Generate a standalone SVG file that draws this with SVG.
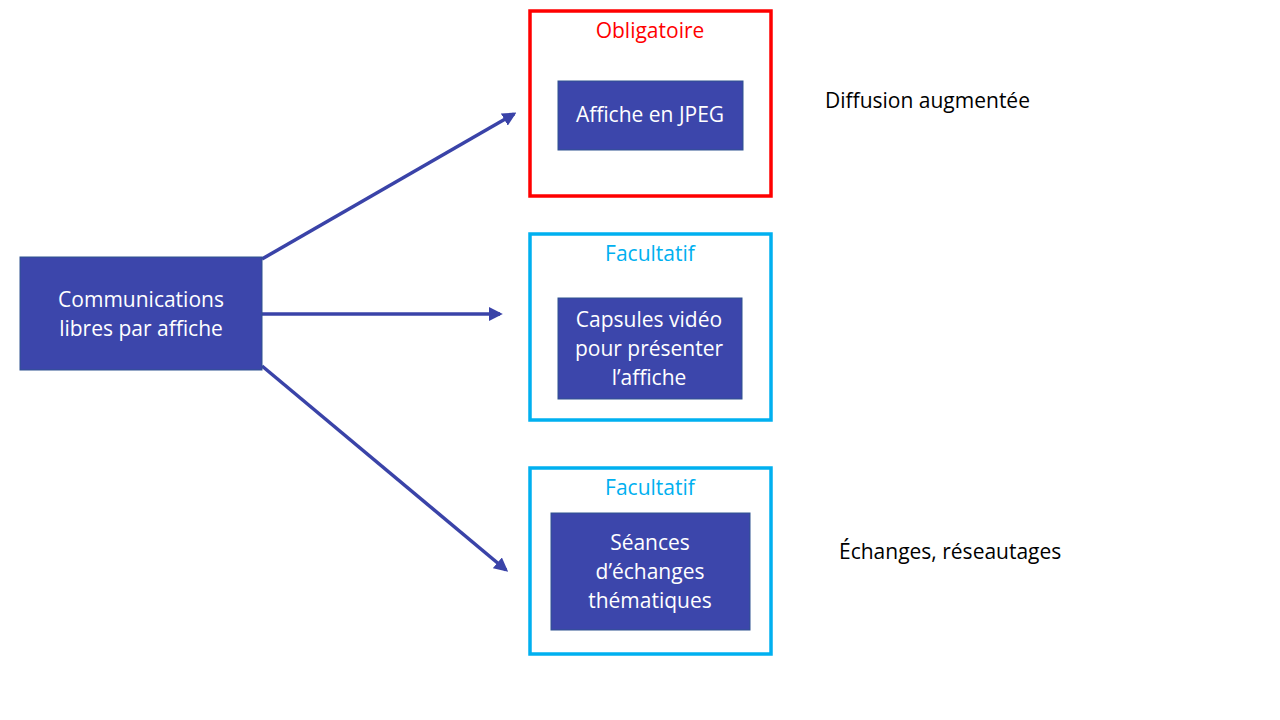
<svg xmlns="http://www.w3.org/2000/svg" width="1280" height="720" viewBox="0 0 1280 720">
<defs>
<style>
.node{fill:#3c46ab;stroke:#2f528f;stroke-width:1}
.t{font-family:"Open Sans","Liberation Sans",Arial,sans-serif;font-size:21px;text-anchor:middle}
.w{fill:#ffffff}
.lbl{font-family:"Open Sans","Liberation Sans",Arial,sans-serif;font-size:21px;fill:#000}
.frame{fill:none;stroke-width:3.5}
.conn{stroke:#3a43a8;stroke-width:3.5;fill:none;marker-end:url(#ah)}
</style>
<marker id="ah" viewBox="0 0 10 10" refX="8" refY="5" markerWidth="4" markerHeight="4" orient="auto" markerUnits="strokeWidth">
<path d="M0,0 L10,5 L0,10 z" fill="#3a43a8"/>
</marker>
</defs>
<rect width="1280" height="720" fill="#ffffff"/>
<g id="connectors">
<line class="conn" x1="262" y1="259" x2="514" y2="114"/>
<line class="conn" x1="262" y1="314" x2="500" y2="314"/>
<line class="conn" x1="262" y1="366" x2="506" y2="570"/>
</g>
<g id="source">
<rect class="node" x="20" y="257" width="242" height="113"/>
<text class="t w" x="141" y="307">Communications</text>
<text class="t w" x="141" y="336">libres par affiche</text>
</g>
<g id="obligatoire">
<rect class="frame" x="530" y="11" width="241" height="185" stroke="#ff0000"/>
<text class="t" x="650" y="38" fill="#ff0000">Obligatoire</text>
<rect class="node" x="558" y="81" width="185" height="69"/>
<text class="t w" x="650" y="122">Affiche en JPEG</text>
</g>
<g id="facultatif1">
<rect class="frame" x="530" y="234" width="241" height="186" stroke="#00b0f0"/>
<text class="t" x="650" y="261" fill="#00b0f0">Facultatif</text>
<rect class="node" x="558" y="298" width="184" height="101"/>
<text class="t w" x="649" y="327">Capsules vidéo</text>
<text class="t w" x="649" y="356">pour présenter</text>
<text class="t w" x="649" y="385">l’affiche</text>
</g>
<g id="facultatif2">
<rect class="frame" x="530" y="468" width="241" height="186" stroke="#00b0f0"/>
<text class="t" x="650" y="495" fill="#00b0f0">Facultatif</text>
<rect class="node" x="551" y="513" width="199" height="117"/>
<text class="t w" x="650" y="550">Séances</text>
<text class="t w" x="650" y="579">d’échanges</text>
<text class="t w" x="650" y="608">thématiques</text>
</g>
<g id="notes">
<text class="lbl" x="825" y="108">Diffusion augmentée</text>
<text class="lbl" x="839" y="559">Échanges, réseautages</text>
</g>
</svg>
